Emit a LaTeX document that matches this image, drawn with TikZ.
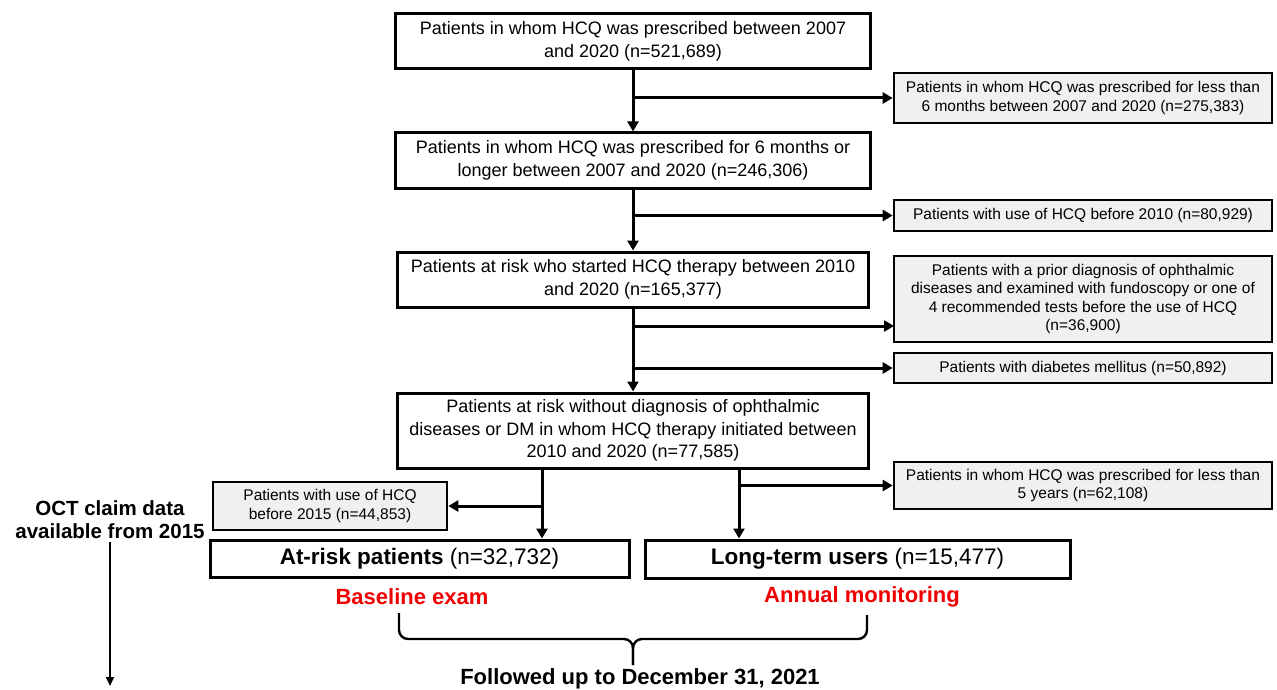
\documentclass[tikz,border=0pt]{standalone}
\usepackage{fontspec}
\setmainfont{Liberation Sans}
\usetikzlibrary{arrows.meta,calc}
\definecolor{boxgray}{RGB}{240,240,240}
\definecolor{examred}{RGB}{240,0,0}
\tikzset{
	mainbox/.style={draw, line width=3pt, fill=white, align=center, inner sep=0pt, font=\fontsize{18}{22.5}\selectfont},
	sidebox/.style={draw, line width=2.6pt, fill=boxgray, align=center, inner sep=0pt, font=\fontsize{15.5}{18.5}\selectfont},
	groupbox/.style={draw, line width=3pt, fill=white, align=center, inner sep=0pt, font=\fontsize{22.5}{26}\selectfont},
	redlabel/.style={text=examred, font=\bfseries\fontsize{22}{26}\selectfont},
	boldlabel/.style={align=center, font=\bfseries\fontsize{20.5}{23}\selectfont},
	arr/.style={line width=3pt, -{Triangle[length=10pt,width=11pt]}},
	thinarr/.style={line width=1.6pt, -{Triangle[length=9pt,width=8pt]}},
	brace/.style={line width=2.4pt, rounded corners=9pt},
}
\begin{document}
\begin{tikzpicture}[x=1pt,y=-1pt]
		\fill[white] (0,0) rectangle (1277,690);
		\useasboundingbox (0,0) rectangle (1277,690);
		\node[mainbox, minimum width=475pt, minimum height=55pt] (m1) at (633,41.5) {Patients in whom HCQ was prescribed between 2007\\and 2020 (n=521,689)};
		\node[mainbox, minimum width=475pt, minimum height=55pt] (m2) at (633,160.5) {Patients in whom HCQ was prescribed for 6 months or\\longer between 2007 and 2020 (n=246,306)};
		\node[mainbox, minimum width=471pt, minimum height=55pt] (m3) at (633,279.5) {Patients at risk who started HCQ therapy between 2010\\and 2020 (n=165,377)};
		\node[mainbox, minimum width=471pt, minimum height=75pt] (m4) at (633,430.5) {Patients at risk without diagnosis of ophthalmic\\diseases or DM in whom HCQ therapy initiated between\\2010 and 2020 (n=77,585)};
		\node[sidebox, minimum width=378pt, minimum height=50pt] (r1) at (1083,98) {Patients in whom HCQ was prescribed for less than\\6 months between 2007 and 2020 (n=275,383)};
		\node[sidebox, minimum width=378pt, minimum height=31pt] (r2) at (1083,215.5) {Patients with use of HCQ before 2010 (n=80,929)};
		\node[sidebox, minimum width=378pt, minimum height=86pt] (r3) at (1083,299) {Patients with a prior diagnosis of ophthalmic\\diseases and examined with fundoscopy or one of\\4 recommended tests before the use of HCQ\\(n=36,900)};
		\node[sidebox, minimum width=378pt, minimum height=30pt] (r4) at (1083,368) {Patients with diabetes mellitus (n=50,892)};
		\node[sidebox, minimum width=378pt, minimum height=47pt] (r5) at (1083,485.5) {Patients in whom HCQ was prescribed for less than\\5 years (n=62,108)};
		\node[sidebox, minimum width=234pt, minimum height=48pt] (g) at (330,506) {Patients with use of HCQ\\before 2015 (n=44,853)};
		\node[groupbox, minimum width=419pt, minimum height=37pt] (a) at (419.5,558.5) {\textbf{At-risk patients} (n=32,732)};
		\node[groupbox, minimum width=425pt, minimum height=38pt] (l) at (857.5,559) {\textbf{Long-term users} (n=15,477)};
		\node[redlabel] (base) at (412,597) {Baseline exam};
		\node[redlabel] (annual) at (862,597) {Annual monitoring};
		\node[boldlabel] (oct) at (110,519.5) {OCT claim data\\available from 2015};
		\node[boldlabel, font=\bfseries\fontsize{22}{26}\selectfont] (follow) at (640,679) {Followed up to December 31, 2021};
		\coordinate (r3in) at (894,326);
		\coordinate (lsplit) at (542,506);
		\coordinate (rsplit) at (739,485.5);
		\coordinate (octend) at (110,686);
		\coordinate (bl) at (399,613);
		\coordinate (br) at (867,615);
		\coordinate (bmid) at (633,639);
		\coordinate (btip) at (633,665);
		\draw[arr] (m1) -- (m2);
		\draw[arr] (m1.south |- r1.west) -- (r1.west);
		\draw[arr] (m2) -- (m3);
		\draw[arr] (m2.south |- r2.west) -- (r2.west);
		\draw[arr] (m3) -- (m4);
		\draw[arr] (m3.south |- r3in) -- (r3in);
		\draw[arr] (m3.south |- r4.west) -- (r4.west);
		\draw[arr] (m4.south -| lsplit) -- (a.north -| lsplit);
		\draw[arr] (lsplit) -- (g.east);
		\draw[arr] (m4.south -| rsplit) -- (l.north -| rsplit);
		\draw[arr] (rsplit) -- (r5.west);
		\draw[thinarr] (oct.south) -- (octend);
		\draw[brace] (bl) -- (bl |- bmid) -- (bmid) -- (btip);
		\draw[brace] (br) -- (br |- bmid) -- (bmid) -- (btip);
\end{tikzpicture}
\end{document}
